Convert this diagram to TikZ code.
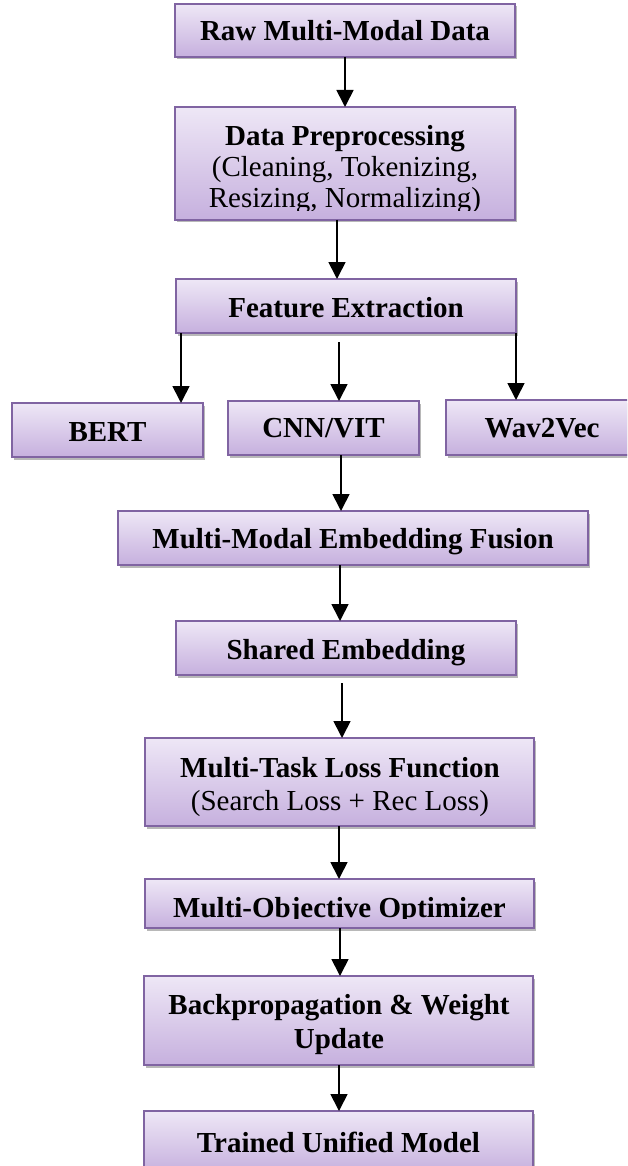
\documentclass[tikz,border=0pt]{standalone}
\usepackage{fontspec}
\setmainfont{Liberation Serif}
\usetikzlibrary{arrows.meta,shadows,calc}
\definecolor{bordc}{HTML}{8064A2}
\definecolor{topc}{HTML}{EEE7F6}
\definecolor{botc}{HTML}{C6B0DE}
\begin{document}
\begin{tikzpicture}[x=1pt,y=-1pt,
  box/.style={rectangle, draw=bordc, line width=1.2pt, top color=topc, bottom color=botc,
    drop shadow={shadow xshift=1.5pt, shadow yshift=-2.5pt, opacity=0.28, fill=black},
    inner sep=0pt, outer sep=0pt},
  lbl/.style={font=\fontsize{29}{32}\selectfont\bfseries, inner sep=0pt, anchor=base},
  lblr/.style={font=\fontsize{29}{32}\selectfont, inner sep=0pt, anchor=base},
  arr/.style={line width=1.7pt, draw=black, -{Triangle[width=17pt,length=17pt]}}]
\useasboundingbox (0,0) rectangle (627,1166);
\clip (0,0) rectangle (627,1166);

% boxes
\node[box, minimum width=340pt, minimum height=53pt] (raw) at (345,30.5) {};
\node[lbl] (rawt) at (345,41) {Raw Multi-Modal Data};

\node[box, minimum width=340pt, minimum height=113pt] (pre) at (345,163.5) {};
\begin{scope}
  \clip (175,107) rectangle (515,211);
  \node[lbl] (pret1) at (345,146) {Data Preprocessing};
  \node[lblr] (pret2) at (345,177) {(Cleaning, Tokenizing,};
  \node[lblr] (pret3) at (345,208) {Resizing, Normalizing)};
\end{scope}

\node[box, minimum width=340pt, minimum height=54pt] (feat) at (346,306) {};
\node[lbl] (featt) at (346,317) {Feature Extraction};

\node[box, minimum width=191pt, minimum height=54pt] (bert) at (107.5,430) {};
\node[lbl] (bertt) at (107.5,441) {BERT};

\node[box, minimum width=191pt, minimum height=54pt] (cnn) at (323.5,428) {};
\node[lbl] (cnnt) at (323.5,437) {CNN/VIT};

\node[box, minimum width=190pt, minimum height=55pt] (wav) at (541,427.5) {};
\node[lbl] (wavt) at (542,437) {Wav2Vec};

\node[box, minimum width=470pt, minimum height=54pt] (fusion) at (353,538) {};
\node[lbl] (fusiont) at (353,548) {Multi-Modal Embedding Fusion};

\node[box, minimum width=340pt, minimum height=54pt] (shared) at (346,648) {};
\node[lbl] (sharedt) at (346,659) {Shared Embedding};

\node[box, minimum width=389pt, minimum height=88pt] (task) at (339.5,782) {};
\node[lbl] (taskt1) at (340,777) {Multi-Task Loss Function};
\node[lblr] (taskt2) at (340,810) {(Search Loss + Rec Loss)};

\node[box, minimum width=389pt, minimum height=49pt] (optim) at (339.5,903.5) {};
\begin{scope}
  \clip (145,879) rectangle (534,918);
  \node[lbl] (optimt) at (339.5,917) {Multi-Objective Optimizer};
\end{scope}

\node[box, minimum width=389pt, minimum height=89pt] (back) at (338.5,1020.5) {};
\node[lbl] (backt1) at (339,1014) {Backpropagation \& Weight};
\node[lbl] (backt2) at (339,1048) {Update};

\node[box, minimum width=389pt, minimum height=62pt] (trained) at (338.5,1142) {};
\node[lbl] (trainedt) at (338.5,1152) {Trained Unified Model};

% arrow x positions
\coordinate (xa) at (337,0);
\coordinate (xb) at (181,0);
\coordinate (xc) at (339,0);
\coordinate (xd) at (341,0);
\coordinate (xe) at (340,0);
\coordinate (xf) at (342,0);

\draw[arr] (raw.south) -- (pre.north);
\draw[arr] (xa |- pre.south) -- (xa |- feat.north);
\draw[arr] (xb |- feat.south) -- (xb |- bert.north);
\draw[arr] ($(xc |- feat.south)+(0,9)$) -- (xc |- cnn.north);
\draw[arr] (feat.south east) -- (feat.south east |- wav.north);
\draw[arr] (xd |- cnn.south) -- (xd |- fusion.north);
\draw[arr] (xe |- fusion.south) -- (xe |- shared.north);
\draw[arr] ($(xf |- shared.south)+(0,8)$) -- (xf |- task.north);
\draw[arr] (xc |- task.south) -- (xc |- optim.north);
\draw[arr] (xe |- optim.south) -- (xe |- back.north);
\draw[arr] (xc |- back.south) -- (xc |- trained.north);
\end{tikzpicture}
\end{document}
